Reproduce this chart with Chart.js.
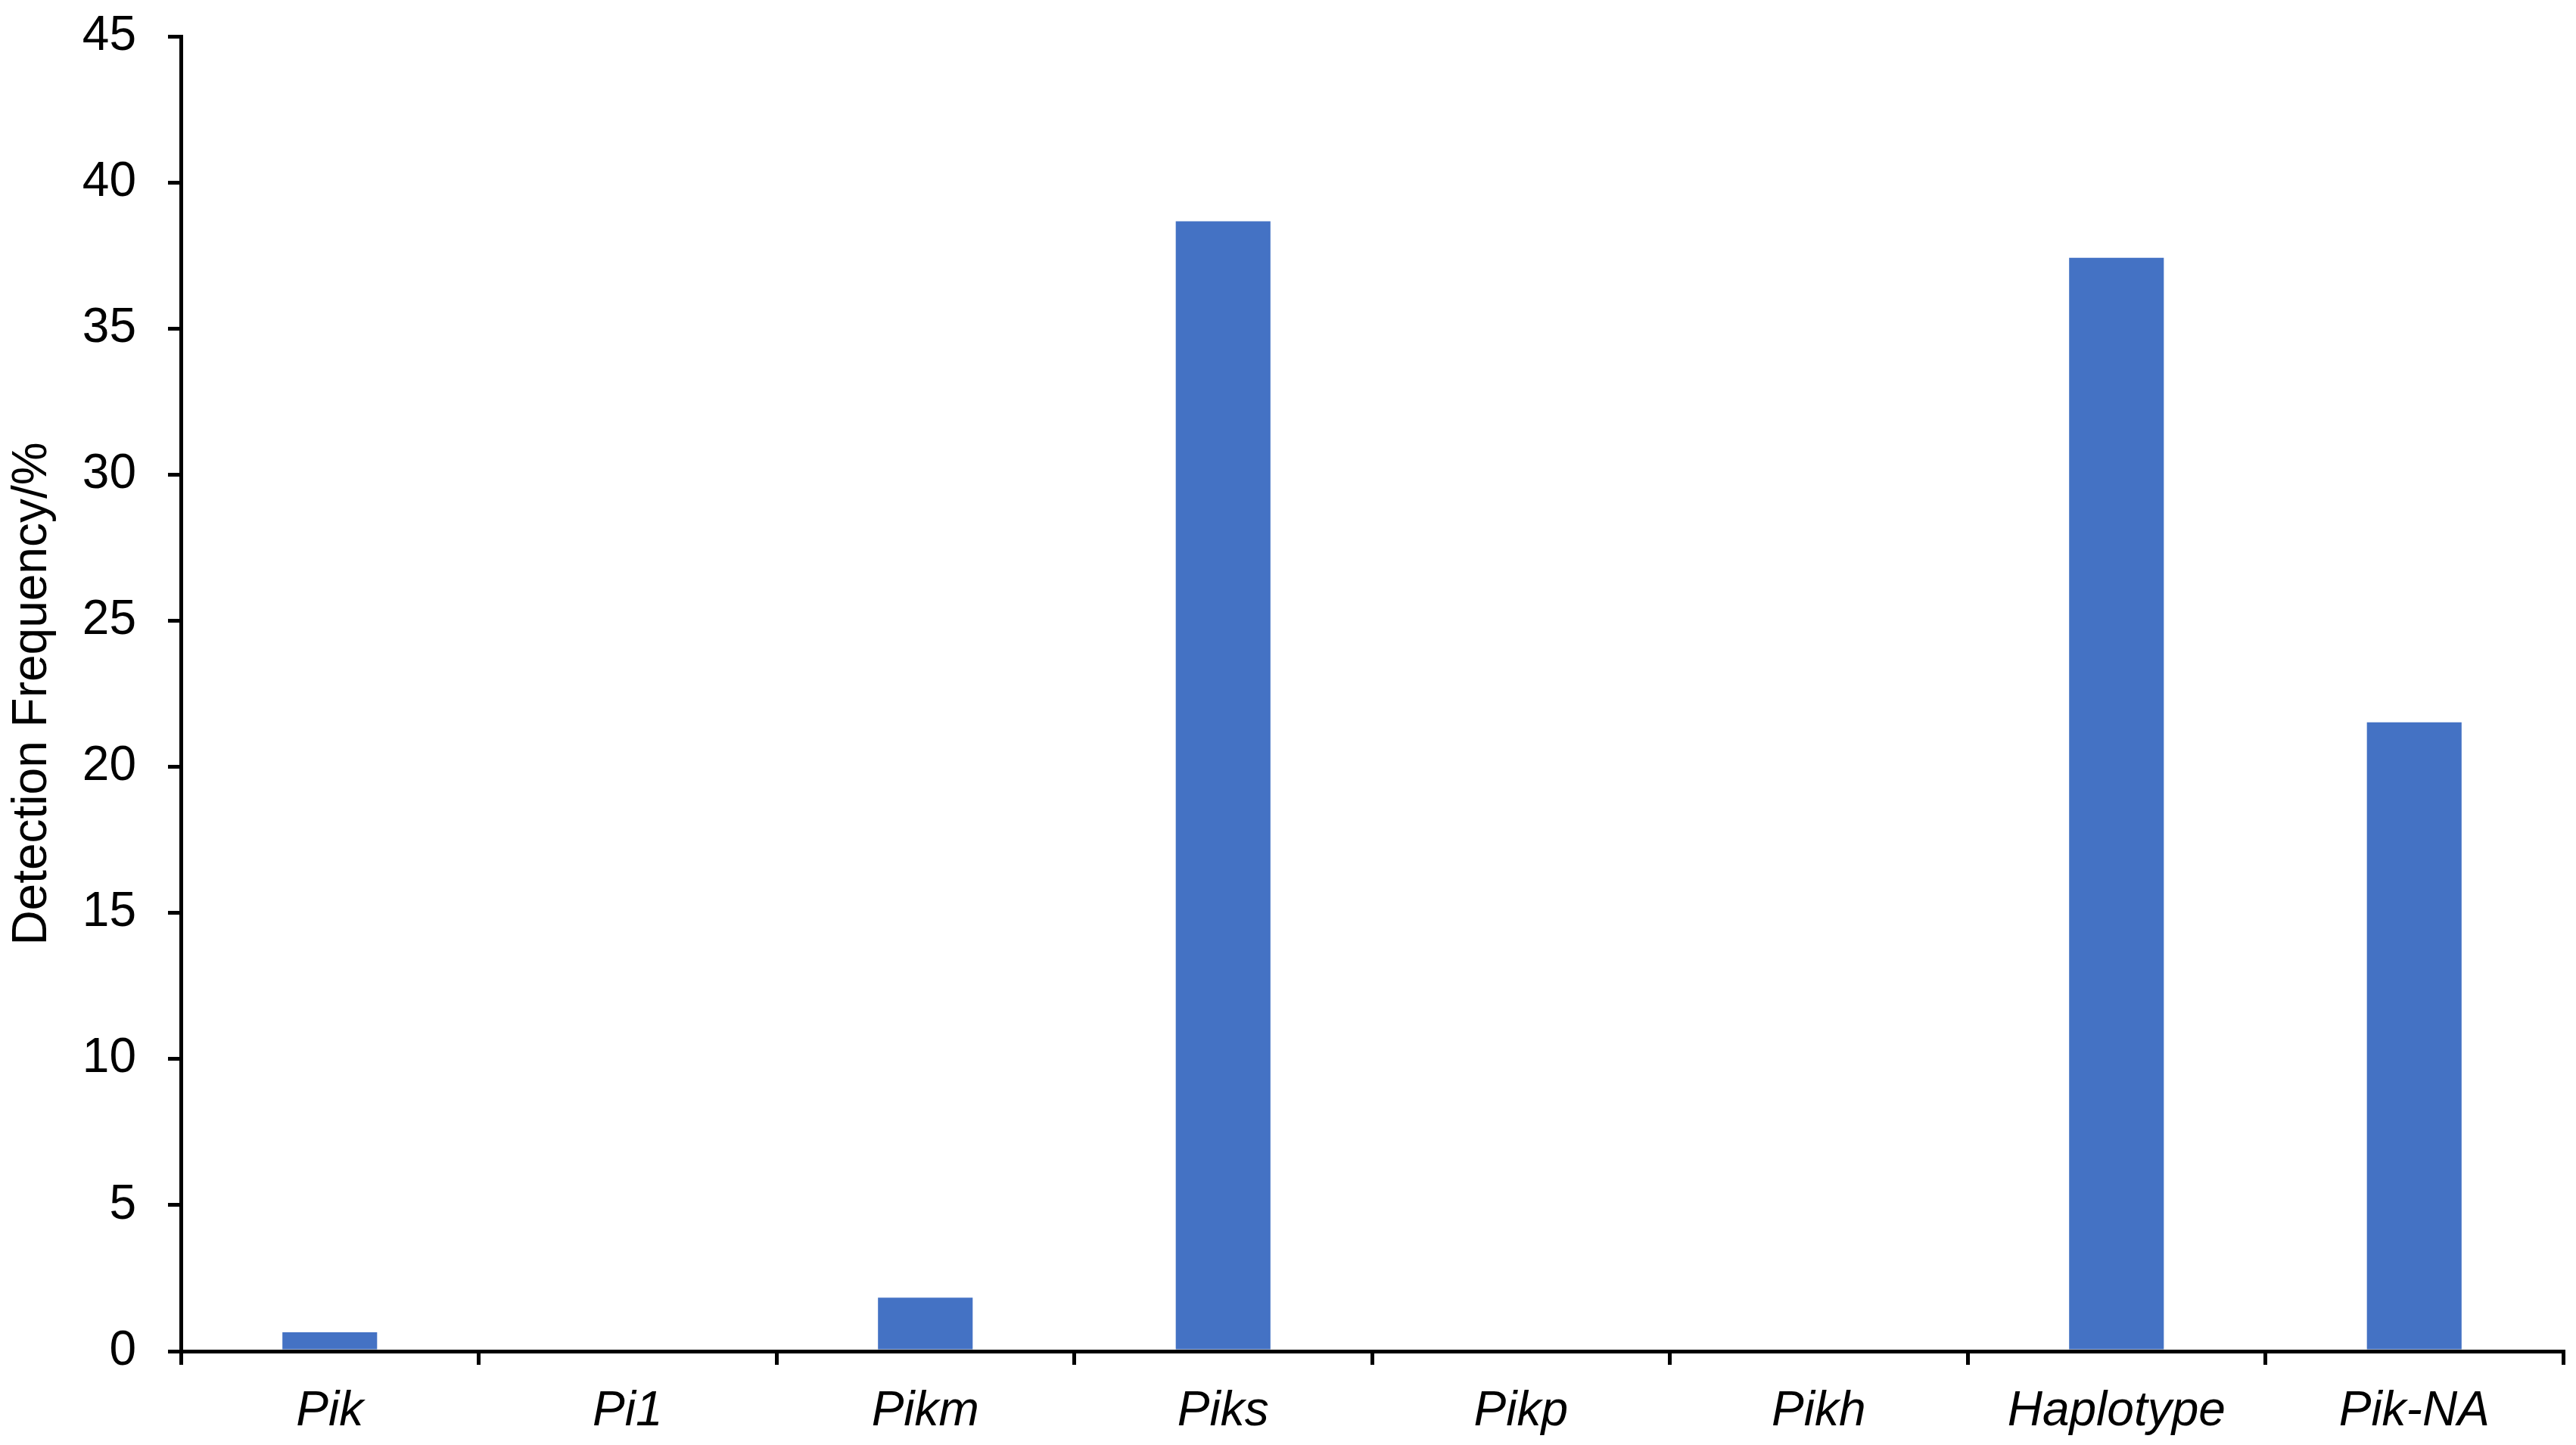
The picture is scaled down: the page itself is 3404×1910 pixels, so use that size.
<!DOCTYPE html>
<html>
<head>
<meta charset="utf-8">
<script src="https://cdn.jsdelivr.net/npm/chart.js@4.4.1/dist/chart.umd.min.js"></script>
<style>
  html, body { margin: 0; padding: 0; background: #ffffff; }
  #wrap { width: 3404px; height: 1910px; }
</style>
</head>
<body>
<div id="wrap"><canvas id="c" width="3404" height="1910"></canvas></div>
<script>
const categories = ["Pik", "Pi1", "Pikm", "Piks", "Pikp", "Pikh", "Haplotype", "Pik-NA"];
const detectionFrequency = [0.65, 0, 1.83, 38.67, 0, 0, 37.42, 21.52];
const yTickMin = 0;
const yTickMax = 45;
const yTickStep = 5;
const yTitle = "Detection Frequency/%";

const FONT = "'Liberation Sans', Arial, sans-serif";

new Chart(document.getElementById('c'), {
  type: 'bar',
  data: {
    labels: categories,
    datasets: [{
      data: detectionFrequency,
      backgroundColor: '#4472C4',
      borderWidth: 0,
      categoryPercentage: 1.0,
      barPercentage: 0.318
    }]
  },
  options: {
    responsive: false,
    animation: false,
    devicePixelRatio: 1,
    layout: { padding: { top: 48, right: 17, left: 0, bottom: 0 } },
    plugins: { legend: { display: false }, tooltip: { enabled: false } },
    scales: {
      x: {
        offset: true,
        grid: {
          offset: true,
          drawOnChartArea: false,
          drawTicks: true,
          tickLength: 18,
          color: '#000',
          lineWidth: 5
        },
        border: { display: true, color: '#000', width: 5 },
        ticks: {
          color: '#000',
          font: { family: FONT, size: 64, style: 'italic' },
          padding: 24,
          maxRotation: 0,
          autoSkip: false
        },
        afterFit: (scale) => { scale.height = 124; scale.paddingLeft = 0; scale.paddingRight = 0; }
      },
      y: {
        min: yTickMin,
        max: yTickMax,
        grid: {
          drawOnChartArea: false,
          drawTicks: true,
          tickLength: 17,
          color: '#000',
          lineWidth: 5
        },
        border: { display: true, color: '#000', width: 5 },
        ticks: {
          stepSize: yTickStep,
          color: '#000',
          font: { family: FONT, size: 64 },
          padding: 42
        },
        title: {
          display: true,
          text: yTitle,
          color: '#000',
          font: { family: FONT, size: 64 },
          padding: { top: 5, bottom: 0 }
        },
        afterFit: (scale) => { scale.width = 239; scale.paddingTop = 0; scale.paddingBottom = 0; }
      }
    }
  }
});
</script>
</body>
</html>
